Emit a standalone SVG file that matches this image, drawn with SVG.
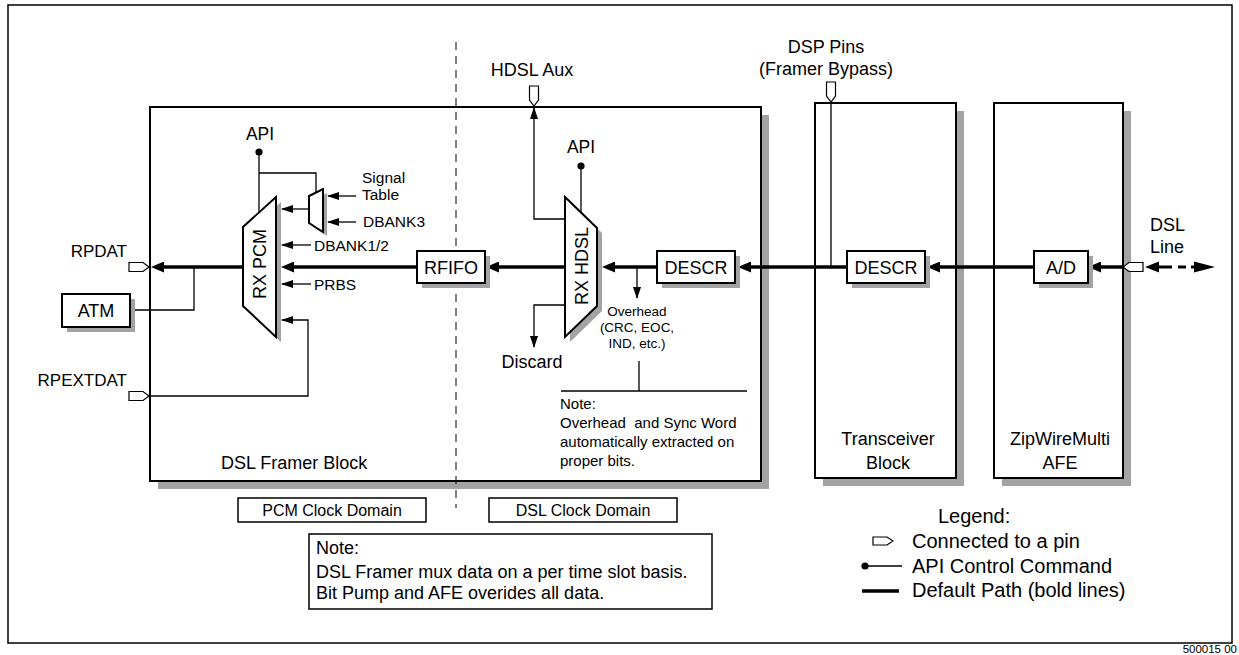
<svg xmlns="http://www.w3.org/2000/svg" width="1239" height="655" viewBox="0 0 1239 655">
  <style>
    text { font-family: "Liberation Sans", Arial, Helvetica, sans-serif; fill: #000; }
    .box { fill: #fff; stroke: #000; stroke-width: 2; }
    .sh { fill: #a3a3a3; stroke: none; }
    .thin { fill: none; stroke: #000; stroke-width: 1.3; }
    .bold { fill: none; stroke: #000; stroke-width: 3.5; }
    .pin { fill: #fff; stroke: #000; stroke-width: 1.2; }
    .dash { fill: none; stroke: #000; stroke-width: 1; stroke-dasharray: 8 6; }
    .lbl { font-size: 18px; }
    .sig { font-size: 15.5px; }
    .small { font-size: 13.5px; }
    .note { font-size: 15px; }
    .leg { font-size: 20px; }
    .dom { font-size: 16px; }
    .mid { text-anchor: middle; }
    .end { text-anchor: end; }
  </style>
  <defs>
    <marker id="ab" markerUnits="userSpaceOnUse" markerWidth="13" markerHeight="11" refX="6" refY="5.5" orient="auto">
      <path d="M0,0 L13,5.5 L0,11 z" fill="#000"/>
    </marker>
    <marker id="at" markerUnits="userSpaceOnUse" markerWidth="12" markerHeight="8" refX="11" refY="4" orient="auto">
      <path d="M0,0 L12,4 L0,8 z" fill="#000"/>
    </marker>
    <!-- pin symbol pointing right, tip at (20,0) -->
    <path id="pin" d="M0,-4.5 H14 L20,0 L14,4.5 H0 Z"/>
  </defs>

  <rect x="0" y="0" width="1239" height="655" fill="#fff"/>
  <!-- page frame -->
  <rect x="8" y="5" width="1224" height="638" fill="none" stroke="#000" stroke-width="1.5"/>
  <text x="1237" y="653" font-size="11.5" class="end">500015 00</text>

  <!-- big blocks -->
  <g id="framer-block">
    <rect class="sh" x="158" y="115" width="611" height="374"/>
    <rect class="box" x="150" y="107" width="611" height="374"/>
    <text class="lbl" x="221" y="469">DSL Framer Block</text>
  </g>
  <g id="transceiver-block">
    <rect class="sh" x="823" y="111" width="141" height="375"/>
    <rect class="box" x="815" y="103" width="141" height="375"/>
    <text class="lbl mid" x="888" y="445">Transceiver</text>
    <text class="lbl mid" x="888" y="469">Block</text>
  </g>
  <g id="afe-block">
    <rect class="sh" x="1002" y="111" width="129" height="375"/>
    <rect class="box" x="994" y="103" width="129" height="375"/>
    <text class="lbl mid" x="1060" y="445">ZipWireMulti</text>
    <text class="lbl mid" x="1060" y="469">AFE</text>
  </g>

  <!-- clock domain boundary -->
  <line class="dash" x1="456" y1="42" x2="456" y2="508"/>

  <!-- connectors -->
  <g id="connectors">
    <!-- default (bold) receive path -->
    <path class="bold" d="M1124,267 H1095" marker-end="url(#ab)"/>
    <path class="bold" d="M1034,267 H934" marker-end="url(#ab)"/>
    <path class="bold" d="M847,267 H745" marker-end="url(#ab)"/>
    <path class="bold" d="M657,267 H609" marker-end="url(#ab)"/>
    <path class="bold" d="M565,267 H493" marker-end="url(#ab)"/>
    <path class="bold" d="M417,267 H288" marker-end="url(#ab)"/>
    <path class="bold" d="M243,267 H158" marker-end="url(#ab)"/>

    <!-- RX PCM side inputs -->
    <path class="thin" d="M309,209 H282" marker-end="url(#at)"/>
    <path class="thin" d="M311,245 H282" marker-end="url(#at)"/>
    <path class="thin" d="M311,284 H282" marker-end="url(#at)"/>
    <path class="thin" d="M149,396 H308 V320 H282" marker-end="url(#at)"/>
    <!-- signal table mux inputs -->
    <path class="thin" d="M356,196 H328" marker-end="url(#at)"/>
    <path class="thin" d="M356,222 H328" marker-end="url(#at)"/>
    <!-- ATM tap -->
    <path class="thin" d="M130,310 H194 V267"/>
    <!-- API controls -->
    <path class="thin" d="M259,152 V212.5 M259,173 H316 V192.5"/>
    <path class="thin" d="M581,166 V212.5"/>
    <!-- HDSL aux and discard -->
    <path class="thin" d="M565,219 H534 V108" marker-end="url(#at)"/>
    <path class="thin" d="M565,305 H534 V347" marker-end="url(#at)"/>
    <!-- overhead extraction -->
    <path class="thin" d="M637,267 V298" marker-end="url(#at)"/>
    <path class="thin" d="M639,361 V391 M561,391 H747"/>
    <!-- framer bypass -->
    <path class="thin" d="M831,102 V267"/>
    <!-- DSL line -->
    <path d="M1158,267 H1172 M1178,267 H1186 M1191,267 H1196" stroke="#000" stroke-width="3" fill="none"/>
    <path d="M1145,267 L1159,261.5 L1159,272.5 Z M1215,267 L1194,261.5 L1194,272.5 Z" fill="#000"/>
    <circle cx="259" cy="152" r="3.6"/>
    <circle cx="581" cy="166" r="3.6"/>
  </g>

  <!-- pins -->
  <g id="pins">
    <use href="#pin" class="pin" transform="translate(129,267)"/>
    <use href="#pin" class="pin" transform="translate(129,396)"/>
    <use href="#pin" class="pin" transform="translate(534,86) rotate(90)"/>
    <use href="#pin" class="pin" transform="translate(831,82) rotate(90)"/>
    <use href="#pin" class="pin" transform="translate(1143,267) rotate(180)"/>
  </g>

  <g id="rx-pcm">
    <polygon class="sh" points="248,232 281,202 281,342 248,311"/>
    <polygon class="box" points="243,227 276,197 276,337 243,306"/>
    <text class="lbl mid" transform="translate(266,264) rotate(-90)">RX PCM</text>
  </g>
  <g id="signal-mux">
    <polygon class="sh" points="313,200 327,193 327,236 313,227"/>
    <polygon class="box" points="309,196 323,189 323,232 309,223"/>
  </g>
  <g id="rx-hdsl">
    <polygon class="sh" points="570,202 602,233 602,311 570,342"/>
    <polygon class="box" points="565,197 597,228 597,306 565,337"/>
    <text class="lbl mid" transform="translate(588,266) rotate(-90)">RX HDSL</text>
  </g>
  <g id="rfifo">
    <rect class="sh" x="422" y="256" width="68" height="32"/>
    <rect class="box" x="417" y="251" width="68" height="32"/>
    <text class="lbl mid" x="451" y="274">RFIFO</text>
  </g>
  <g id="descr-framer">
    <rect class="sh" x="662" y="256" width="78" height="32"/>
    <rect class="box" x="657" y="251" width="78" height="32"/>
    <text class="lbl mid" x="696" y="274">DESCR</text>
  </g>
  <g id="descr-transceiver">
    <rect class="sh" x="852" y="256" width="78" height="32"/>
    <rect class="box" x="847" y="251" width="78" height="32"/>
    <text class="lbl mid" x="886" y="274">DESCR</text>
  </g>
  <g id="ad">
    <rect class="sh" x="1039" y="256" width="54" height="32"/>
    <rect class="box" x="1034" y="251" width="54" height="32"/>
    <text class="lbl mid" x="1061" y="274">A/D</text>
  </g>
  <g id="atm">
    <rect class="sh" x="67" y="299" width="68" height="33"/>
    <rect class="box" x="62" y="294" width="68" height="33"/>
    <text class="lbl mid" x="96" y="317" font-size="17">ATM</text>
  </g>

  <!-- labels -->
  <g id="labels">
    <text class="end" x="127" y="257" font-size="17">RPDAT</text>
    <text class="end" x="127" y="386" font-size="17">RPEXTDAT</text>
    <text class="mid" x="260" y="140" font-size="17.5">API</text>
    <text class="mid" x="581" y="153" font-size="17.5">API</text>
    <text class="sig" x="362" y="183">Signal</text>
    <text class="sig" x="362" y="200">Table</text>
    <text class="sig" x="363" y="227">DBANK3</text>
    <text class="sig" x="314" y="251">DBANK1/2</text>
    <text class="sig" x="314" y="290">PRBS</text>
    <text class="lbl mid" x="532" y="76">HDSL Aux</text>
    <text class="lbl mid" x="826" y="53">DSP Pins</text>
    <text class="lbl mid" x="826" y="75">(Framer Bypass)</text>
    <text class="lbl" x="1150" y="231">DSL</text>
    <text class="lbl" x="1150" y="253">Line</text>
    <text class="lbl mid" x="532" y="368">Discard</text>
    <text class="small mid" x="637" y="316">Overhead</text>
    <text class="small mid" x="637" y="332">(CRC, EOC,</text>
    <text class="small mid" x="637" y="348">IND, etc.)</text>
    <text class="note" x="560" y="409">Note:</text>
    <text class="note" x="560" y="428" xml:space="preserve">Overhead  and Sync Word</text>
    <text class="note" x="560" y="447">automatically extracted on</text>
    <text class="note" x="560" y="466">proper bits.</text>
  </g>

  <g id="pcm-clock-domain">
    <rect x="238" y="498" width="188" height="24" fill="#fff" stroke="#000" stroke-width="1.5"/>
    <text class="dom mid" x="332" y="516">PCM Clock Domain</text>
  </g>
  <g id="dsl-clock-domain">
    <rect x="489" y="498" width="188" height="24" fill="#fff" stroke="#000" stroke-width="1.5"/>
    <text class="dom mid" x="583" y="516">DSL Clock Domain</text>
  </g>
  <g id="mux-note">
    <rect x="309" y="534" width="403" height="75" fill="#fff" stroke="#000" stroke-width="1.5"/>
    <text class="lbl" x="316" y="554">Note:</text>
    <text class="lbl" x="316" y="578">DSL Framer mux data on a per time slot basis.</text>
    <text class="lbl" x="316" y="599">Bit Pump and AFE overides all data.</text>
  </g>

  <g id="legend">
    <text class="leg" x="938" y="523">Legend:</text>
    <use href="#pin" class="pin" transform="translate(873,541) scale(1,0.9)"/>
    <text class="leg" x="912" y="548">Connected to a pin</text>
    <circle cx="865" cy="566" r="3.6"/>
    <line x1="865" y1="566" x2="902" y2="566" stroke="#000" stroke-width="1.5"/>
    <text class="leg" x="912" y="573">API Control Command</text>
    <line x1="862" y1="591" x2="899" y2="591" stroke="#000" stroke-width="3.5"/>
    <text class="leg" x="912" y="597">Default Path (bold lines)</text>
  </g>
</svg>
